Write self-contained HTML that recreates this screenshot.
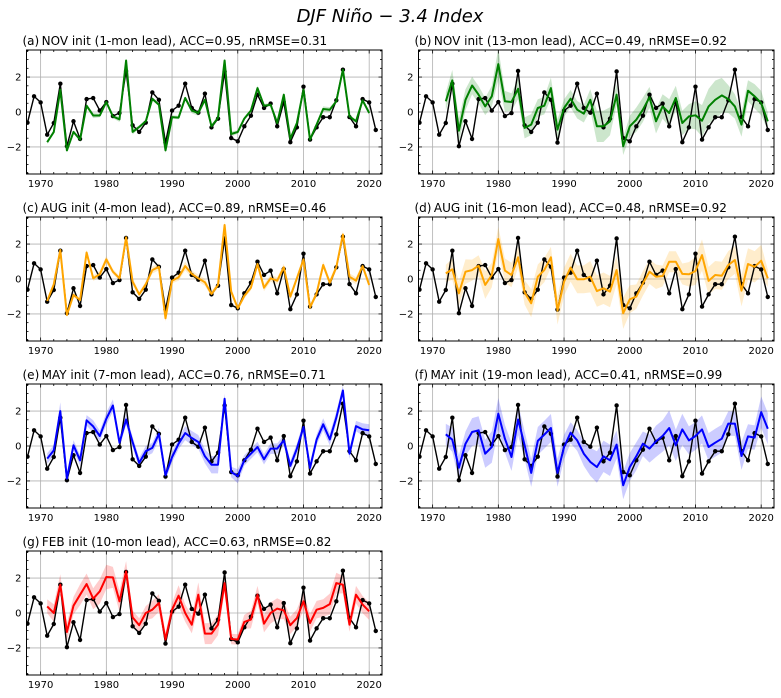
<!DOCTYPE html>
<html><head><meta charset="utf-8"><style>
html,body{margin:0;padding:0;background:#fff;}
svg{display:block;font-family:"DejaVu Sans","Liberation Sans",sans-serif;}
</style></head><body>
<svg id="chart" width="781" height="698" viewBox="0 0 781 698" xmlns="http://www.w3.org/2000/svg">
<rect width="781" height="698" fill="#fff"/>
<text x="390" y="22" text-anchor="middle" font-size="18" font-style="italic" font-family="DejaVu Sans, sans-serif">DJF Niño − 3.4 Index</text>
</svg>
<script>
const obsYears0 = 1968;
const obs = [-0.61,0.9,0.55,-1.3,-0.63,1.62,-1.96,-0.53,-1.54,0.74,0.8,0.08,0.57,-0.23,-0.06,2.35,-0.76,-1.14,-0.61,1.12,0.7,-1.75,0.08,0.36,1.62,0.23,-0.04,1.05,-0.88,-0.38,2.32,-1.49,-1.68,-0.82,-0.21,0.99,0.23,0.48,-0.82,0.57,-1.73,-0.88,1.45,-1.58,-0.88,-0.3,-0.3,0.67,2.42,-0.29,-0.82,0.74,0.55,-1.03];
const predA = [-1.73,-1.14,1.28,-2.2,-1.14,-1.58,0.36,-0.2,-0.2,0.57,-0.25,-0.42,2.95,-1.14,-0.86,-0.53,0.76,0.42,-2.2,-0.29,-0.32,0.8,0.08,-0.06,0.7,-0.82,-0.34,2.95,-1.26,-1.14,-0.38,0.08,1.37,0.36,0.42,-0.63,0.99,-1.54,-0.63,1.28,-1.58,-0.72,0.17,0.13,0.61,2.42,-0.25,-0.53,0.67,-0.06];
const predB = [0.61,1.81,-1.07,0.7,1.52,0.99,0.32,0.9,2.74,0.61,0.57,1.33,-0.91,-0.72,0.23,0.36,1.37,-1.01,0.23,0.76,0.13,-0.1,0.7,-0.82,-0.82,-0.53,0.99,-1.96,-0.82,-0.44,0.13,0.84,-0.53,0.32,-0.06,0.8,-0.63,-0.25,-0.19,-0.5,0.32,0.7,0.95,0.74,0.32,-0.72,1.22,0.9,0.51,-0.53];
const predC = [-1.26,-0.3,1.66,-2.06,-0.91,-1.2,1.52,0.04,0.27,1.12,0.42,0.04,2.38,-0.15,-0.88,-0.3,0.51,0.7,-2.25,-0.1,0.1,0.74,0.29,0.04,-0.19,-0.86,-0.34,3.09,-0.72,-1.68,-0.97,-0.5,0.86,-0.5,0.04,-0.1,0.67,-1.01,0.04,1.12,-1.64,-0.82,0.8,-0.21,0.67,2.55,0.13,-0.1,0.74,-0.34];
const predD = [0.32,0.55,-0.82,0.42,0.51,0.76,-0.34,0.23,2.29,0.48,0.23,1.24,-0.76,-1.39,0.13,0.51,1.24,-1.81,-0.15,0.65,-0.02,-0.02,0.13,-0.69,-0.53,-0.72,0.51,-1.96,-1.16,-1.01,-0.25,0.42,0.13,0.17,0.99,0.99,0.29,0.27,0.46,1.37,-0.11,0.23,0.19,0.8,1.09,-0.67,0.86,0.7,1.05,0.04];
const predE = [-0.72,-0.25,2.0,-1.87,0.04,-0.82,1.47,1.12,0.57,1.56,2.32,0.19,1.52,0.23,-0.97,-0.3,-0.11,0.7,-1.68,-0.63,0.13,0.74,0.46,0.23,-0.59,-1.07,-1.07,2.7,-1.49,-1.73,-0.82,-0.44,-0.06,-0.76,-0.15,-0.15,0.32,-1.14,-0.15,1.09,-1.26,0.36,1.24,0.38,1.62,3.18,-0.44,1.14,0.95,0.9];
const predF = [0.67,0.36,-1.24,0.13,0.8,0.9,-0.44,-0.06,1.85,0.42,-0.63,1.52,0.04,-1.54,0.29,0.65,1.03,-1.54,-0.06,0.76,0.32,-0.44,-0.91,-1.2,-0.59,-0.82,0.08,-2.25,-1.2,-0.59,0.13,-0.15,0.27,0.57,1.03,0.04,0.95,0.32,0.57,0.95,-0.06,0.19,0.42,1.28,1.28,-0.57,0.55,0.48,1.94,0.99];
const predG = [0.38,0,1.62,-1.09,0.42,1.05,1.66,0.82,1.24,2.06,2.04,0.67,2.38,-0.25,-0.7,0,0.19,0.57,-1.52,0.19,0.99,0,-0.67,1.05,-1.18,-1.18,-0.67,1.71,-1.49,-1.52,-0.51,-0.38,1.05,-0.61,0,0.25,0.15,-0.7,-0.29,0.67,-0.57,0.19,0.29,0.51,1.71,1.62,-0.67,1.05,0.48,0.1];
const spreadA = [0.1,0.1,0.15,0.1,0.1,0.1,0.1,0.15,0.1,0.1,0.1,0.15,0.1,0.15,0.1,0.1,0.1,0.1,0.15,0.1,0.1,0.1,0.15,0.15,0.1,0.1,0.1,0.1,0.15,0.1,0.1,0.1,0.15,0.1,0.1,0.1,0.1,0.1,0.1,0.1,0.1,0.15,0.15,0.15,0.1,0.1,0.1,0.1,0.1,0.1];
const spreadB = [0.5,0.6,0.7,0.6,0.5,0.5,0.5,0.6,0.9,0.6,0.5,0.6,0.6,0.6,0.5,0.5,0.6,0.6,0.5,0.5,0.5,0.5,0.6,0.9,0.9,0.8,0.6,0.5,0.6,0.7,0.7,0.6,0.7,0.7,0.8,0.7,0.7,0.7,0.8,0.9,1.0,1.1,1.0,0.8,0.7,0.7,0.6,0.7,0.7,0.5];
const spreadC = [0.1,0.15,0.15,0.15,0.15,0.1,0.15,0.15,0.2,0.2,0.15,0.15,0.15,0.2,0.15,0.15,0.2,0.2,0.2,0.15,0.2,0.25,0.2,0.2,0.2,0.15,0.15,0.2,0.2,0.15,0.15,0.15,0.2,0.2,0.2,0.2,0.2,0.2,0.2,0.2,0.15,0.2,0.2,0.2,0.2,0.2,0.2,0.2,0.2,0.2];
const spreadD = [0.5,0.6,0.7,0.7,0.6,0.6,0.8,0.7,0.7,0.7,0.7,0.6,0.7,0.8,0.7,0.7,0.6,0.8,0.8,0.8,0.8,0.8,0.9,0.9,0.9,0.9,0.8,0.9,0.8,0.7,0.7,0.7,0.7,0.6,0.6,0.6,0.6,0.7,0.8,0.9,0.8,0.8,0.8,0.8,0.8,0.9,0.9,0.9,0.9,0.5];
const spreadE = [0.3,0.3,0.5,0.3,0.3,0.3,0.3,0.35,0.3,0.35,0.35,0.3,0.3,0.3,0.3,0.3,0.3,0.35,0.3,0.3,0.3,0.4,0.4,0.4,0.4,0.5,0.5,0.3,0.3,0.4,0.3,0.3,0.3,0.3,0.3,0.3,0.3,0.3,0.3,0.3,0.3,0.3,0.35,0.35,0.35,0.3,0.3,0.3,0.35,0.35];
const spreadF = [0.6,0.7,0.7,0.7,0.8,0.8,0.8,0.9,0.9,0.8,0.8,0.9,0.8,0.8,0.8,0.8,0.8,0.8,0.7,0.6,0.6,0.7,0.8,0.9,0.9,0.9,0.8,0.8,0.8,0.8,0.7,0.8,0.9,0.9,1.0,0.9,0.9,0.8,0.8,0.8,0.8,0.8,0.8,0.7,0.7,0.8,0.7,0.7,0.9,0.9];
const spreadG = [0.4,0.5,0.6,0.5,0.5,0.6,0.6,0.6,0.7,0.7,0.6,0.6,0.6,0.4,0.4,0.4,0.5,0.5,0.4,0.4,0.6,0.5,0.5,0.7,0.6,0.6,0.6,0.5,0.3,0.3,0.4,0.5,0.5,0.5,0.6,0.6,0.5,0.5,0.5,0.5,0.5,0.5,0.5,0.6,0.6,0.5,0.4,0.5,0.5,0.5];
const xTicks = [1970,1980,1990,2000,2010,2020];
const yTicks = [2,0,-2];
const titles = ["NOV init (1-mon lead), ACC=0.95, nRMSE=0.31","NOV init (13-mon lead), ACC=0.49, nRMSE=0.92","AUG init (4-mon lead), ACC=0.89, nRMSE=0.46","AUG init (16-mon lead), ACC=0.48, nRMSE=0.92","MAY init (7-mon lead), ACC=0.76, nRMSE=0.71","MAY init (19-mon lead), ACC=0.41, nRMSE=0.99","FEB init (10-mon lead), ACC=0.63, nRMSE=0.82"];
const letters = ["a","b","c","d","e","f","g"];
const predStart = [1971,1972,1971,1972,1971,1972,1971];
const preds = [predA,predB,predC,predD,predE,predF,predG];
const spreads = [spreadA,spreadB,spreadC,spreadD,spreadE,spreadF,spreadG];
const colors = ["#008000","#008000","#FFA500","#FFA500","#0000FF","#0000FF","#FF0000"];

const NS="http://www.w3.org/2000/svg";
const svg=document.getElementById('chart');
function mk(tag,attrs,parent){const e=document.createElementNS(NS,tag);for(const k in attrs)e.setAttribute(k,attrs[k]);(parent||svg).appendChild(e);return e;}
const XMIN=1967.85,XMAX=2021.95,YMIN=-3.55,YMAX=3.55;
const PW=355.5,PH=124;
for(let p=0;p<7;p++){
  const col=p%2,row=Math.floor(p/2);
  const L=col?418.5:26.5, T=50+row*167;
  const sx=v=>L+(v-XMIN)/(XMAX-XMIN)*PW;
  const sy=v=>T+(YMAX-v)/(YMAX-YMIN)*PH;
  const g=mk('g',{});
  
  
  const cid='clip'+p;
  const cp=mk('clipPath',{id:cid},g);mk('rect',{x:L,y:T,width:PW,height:PH},cp);
  xTicks.forEach(t=>{const l=mk('line',{x1:sx(t),x2:sx(t),y1:T,y2:T+PH,stroke:'#b0b0b0','stroke-width':0.8},g);
    });
  yTicks.forEach(t=>{const l=mk('line',{x1:L,x2:L+PW,y1:sy(t),y2:sy(t),stroke:'#b0b0b0','stroke-width':0.8},g);
    });
  const pd=mk('g',{'clip-path':'url(#'+cid+')'},g);
  const pr=preds[p],sp=spreads[p],c=colors[p];
  let up=[],dn=[];
  pr.forEach((v,i)=>{const x=sx(predStart[p]+i);up.push(x.toFixed(1)+','+sy(v+sp[i]).toFixed(1));dn.unshift(x.toFixed(1)+','+sy(v-sp[i]).toFixed(1));});
  const band=mk('polygon',{points:up.concat(dn).join(' '),fill:c,'fill-opacity':0.2,stroke:'none'},pd);
  
  
  const op=obs.map((v,i)=>sx(obsYears0+i).toFixed(1)+','+sy(v).toFixed(1)).join(' ');
  const ol=mk('polyline',{points:op,fill:'none',stroke:'#000','stroke-width':1.4},pd);
  
  
  obs.forEach((v,i)=>{const d=mk('circle',{cx:sx(obsYears0+i),cy:sy(v),r:2.2,fill:'#000'},pd);
    
    });
  const pp=pr.map((v,i)=>sx(predStart[p]+i).toFixed(1)+','+sy(v).toFixed(1)).join(' ');
  const pl=mk('polyline',{points:pp,fill:'none',stroke:c,'stroke-width':2,'stroke-linejoin':'round'},pd);
  
  
  const fr=mk('rect',{x:L,y:T,width:PW,height:PH,fill:'none',stroke:'#000','stroke-width':1},g);
  
  
  for(let yr=1968;yr<=2020;yr+=2){const maj=yr%10===0;const len=maj?3.5:2;
    mk('line',{x1:sx(yr),x2:sx(yr),y1:T+PH,y2:T+PH-len,stroke:'#000','stroke-width':0.8},g);
    mk('line',{x1:sx(yr),x2:sx(yr),y1:T,y2:T+len,stroke:'#000','stroke-width':0.8},g);}
  for(let v=-3.5;v<=3.5;v+=0.5){const maj=Math.abs(v%2)<1e-9;const len=maj?3.5:2;
    mk('line',{x1:L,x2:L+len,y1:sy(v),y2:sy(v),stroke:'#000','stroke-width':0.8},g);
    mk('line',{x1:L+PW,x2:L+PW-len,y1:sy(v),y2:sy(v),stroke:'#000','stroke-width':0.8},g);}
  xTicks.forEach(t=>{const tx=mk('text',{x:sx(t),y:T+PH+13,'text-anchor':'middle','font-size':10},g);tx.textContent=t;
    });
  yTicks.forEach(t=>{const tx=mk('text',{x:L-5,y:sy(t)+3.5,'text-anchor':'end','font-size':10},g);tx.textContent=t<0?'−'+(-t):t;
    });
  const tt=mk('text',{x:L-4,y:T-5,'font-size':12},g);tt.textContent='('+letters[p]+')\u2009'+titles[p];
  
  
}
</script>
</body></html>
